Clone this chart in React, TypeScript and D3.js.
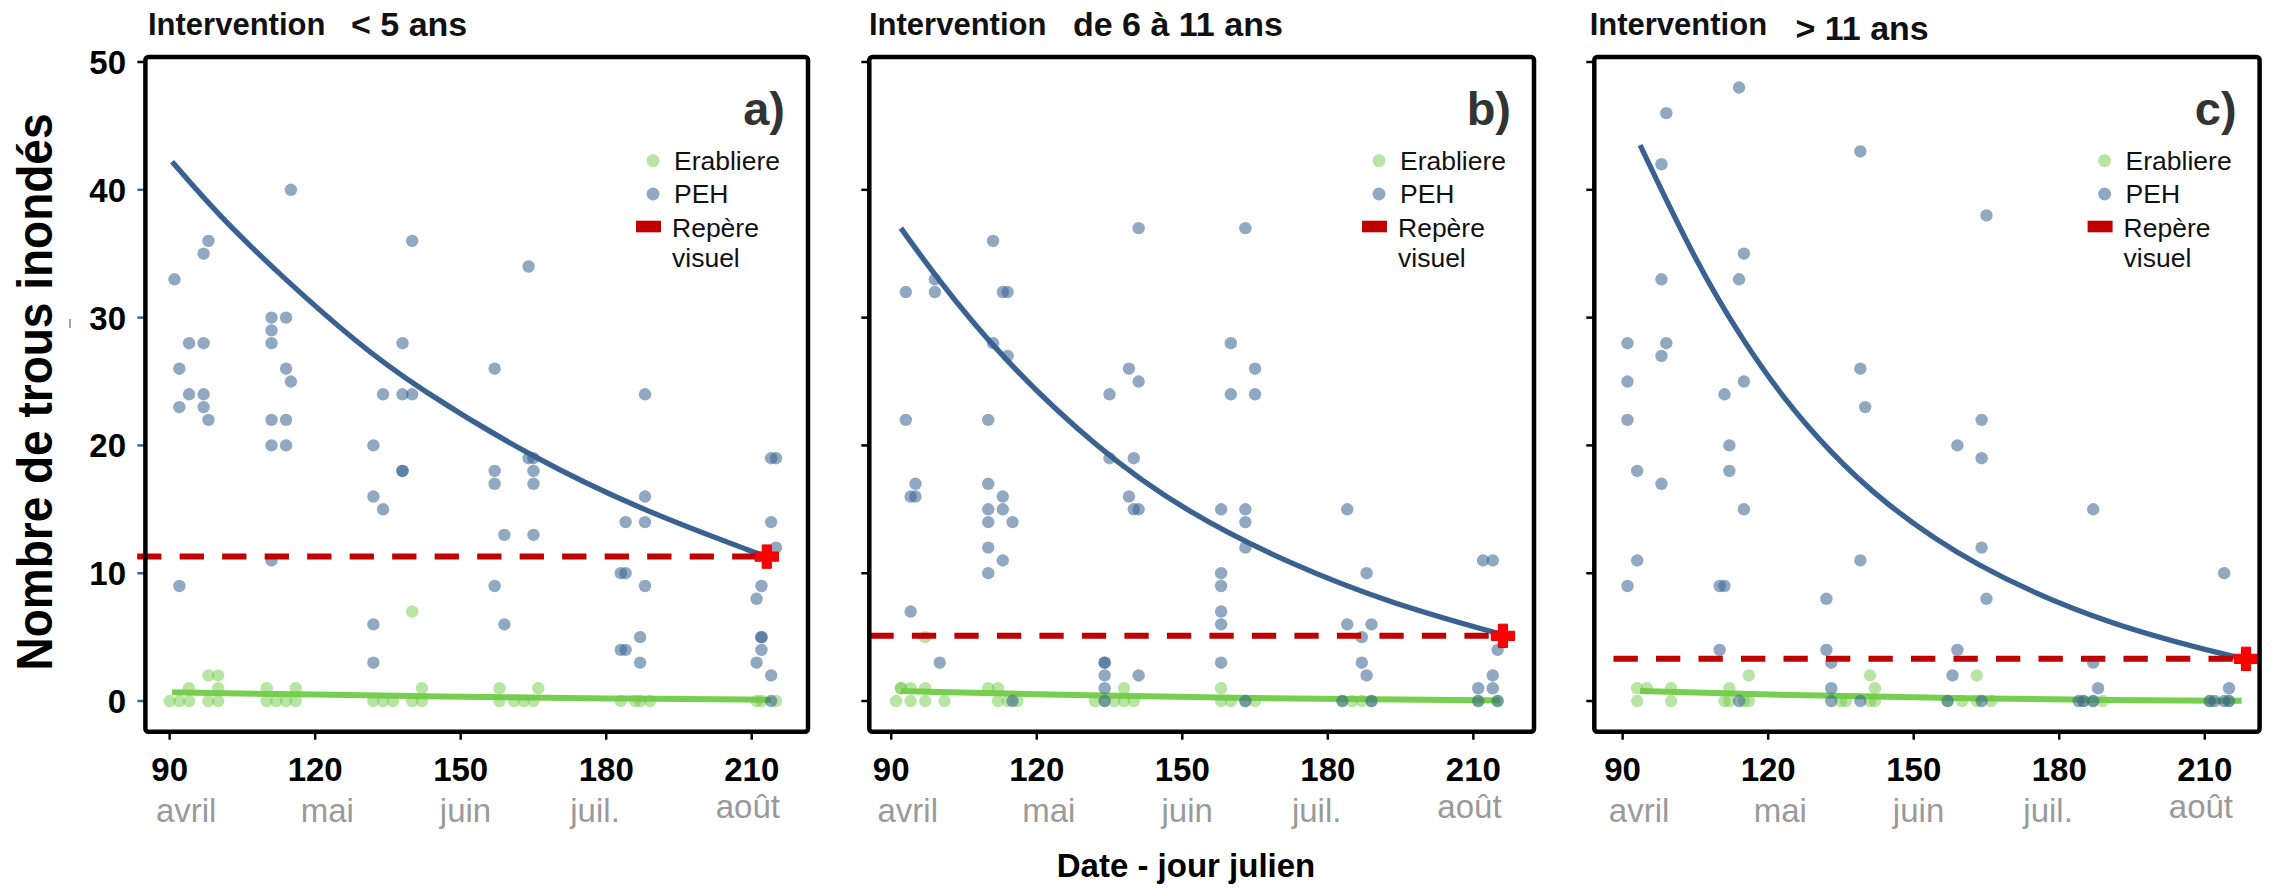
import React from 'react';
import * as d3 from 'd3';

// ---------- DATA ----------
const X_TICKS = [90, 120, 150, 180, 210];
const Y_TICKS = [0, 10, 20, 30, 40, 50];
const MONTHS = ['avril', 'mai', 'juin', 'juil.', 'août'];
const MONTH_DAYS = [93.4, 122.5, 151, 177.7, 209.2];
const PANEL_LABELS = ['a)', 'b)', 'c)'];
const PANEL_TITLES = ['< 5 ans', 'de 6 à 11 ans', '> 11 ans'];
const LEGEND_LABELS = ['Erabliere', 'PEH', 'Repère', 'visuel'];

// PEH points [day, count]
const PEH_A: [number, number][] = [
  [115, 40], [98, 36], [140, 36], [97, 35], [164, 34], [91, 33], [111, 30], [114, 30], [111, 29],
  [94, 28], [97, 28], [111, 28], [138, 28], [92, 26], [114, 26], [157, 26], [115, 25],
  [94, 24], [97, 24], [134, 24], [138, 24], [140, 24], [188, 24], [92, 23], [97, 23],
  [98, 22], [111, 22], [114, 22], [111, 20], [114, 20], [132, 20], [164, 19], [165, 19], [214, 19], [215, 19],
  [138, 18], [138, 18], [157, 18], [165, 18], [157, 17], [165, 17], [132, 16], [188, 16], [134, 15],
  [184, 14], [188, 14], [214, 14], [159, 13], [165, 13], [215, 12], [111, 11], [183, 10], [184, 10],
  [92, 9], [157, 9], [188, 9], [212, 9], [211, 8], [132, 6], [159, 6], [187, 5], [212, 5], [212, 5],
  [183, 4], [184, 4], [212, 4], [132, 3], [187, 3], [211, 3], [214, 2], [214, 0],
];
const ERAB_A: [number, number][] = [
  [140, 7], [98, 2], [100, 2], [94, 1], [100, 1], [110, 1], [116, 1], [142, 1], [158, 1], [166, 1],
  [90, 0], [92, 0], [94, 0], [98, 0], [100, 0], [110, 0], [112, 0], [114, 0], [116, 0], [132, 0],
  [134, 0], [136, 0], [140, 0], [142, 0], [158, 0], [161, 0], [163, 0], [165, 0], [183, 0], [186, 0],
  [187, 0], [189, 0], [211, 0], [212, 0], [215, 0],
];
const PEH_B: [number, number][] = [
  [141, 37], [163, 37], [111, 36], [99, 33], [93, 32], [99, 32], [113, 32], [114, 32], [111, 28], [160, 28],
  [114, 27], [139, 26], [165, 26], [141, 25], [135, 24], [160, 24], [165, 24], [93, 22], [110, 22],
  [135, 19], [140, 19], [95, 17], [110, 17], [94, 16], [95, 16], [113, 16], [139, 16],
  [110, 15], [113, 15], [140, 15], [141, 15], [158, 15], [163, 15], [184, 15], [110, 14], [115, 14], [163, 14],
  [110, 12], [163, 12], [113, 11], [212, 11], [214, 11], [110, 10], [158, 10], [188, 10], [158, 9],
  [94, 7], [158, 7], [158, 6], [184, 6], [189, 6], [187, 5], [215, 4], [100, 3], [134, 3], [134, 3],
  [158, 3], [187, 3], [134, 2], [141, 2], [188, 2], [214, 2], [134, 1], [211, 1], [214, 1],
  [115, 0], [134, 0], [163, 0], [183, 0], [189, 0], [211, 0], [215, 0],
];
const ERAB_B: [number, number][] = [
  [97, 5], [92, 1], [92, 1], [94, 1], [97, 1], [110, 1], [112, 1], [138, 1], [158, 1],
  [91, 0], [94, 0], [97, 0], [101, 0], [112, 0], [114, 0], [116, 0], [132, 0], [134, 0], [136, 0],
  [138, 0], [140, 0], [158, 0], [160, 0], [163, 0], [165, 0], [183, 0], [185, 0], [187, 0], [189, 0],
  [211, 0], [215, 0],
];
const PEH_C: [number, number][] = [
  [114, 48], [99, 46], [139, 43], [98, 42], [165, 38], [115, 35], [98, 33], [114, 33], [91, 28], [99, 28],
  [98, 27], [139, 26], [91, 25], [115, 25], [111, 24], [140, 23], [91, 22], [164, 22], [112, 20], [159, 20],
  [164, 19], [93, 18], [112, 18], [98, 17], [115, 15], [187, 15], [164, 12], [93, 11], [139, 11], [214, 10],
  [91, 9], [110, 9], [111, 9], [132, 8], [165, 8], [110, 4], [132, 4], [159, 4], [133, 3], [187, 3],
  [158, 2], [133, 1], [188, 1], [215, 1],
  [114, 0], [133, 0], [139, 0], [157, 0], [164, 0], [184, 0], [185, 0], [187, 0], [211, 0], [212, 0], [214, 0], [215, 0],
];
const ERAB_C: [number, number][] = [
  [116, 2], [141, 2], [163, 2], [93, 1], [95, 1], [100, 1], [112, 1], [142, 1],
  [93, 0], [100, 0], [111, 0], [112, 0], [115, 0], [116, 0], [135, 0], [136, 0], [141, 0], [142, 0],
  [157, 0], [160, 0], [163, 0], [166, 0], [185, 0], [187, 0], [189, 0], [211, 0], [215, 0],
];

// fitted curves [day, value]
const FIT_PEH_A: [number, number][] = [[90.5, 42.2], [100.3, 37.9], [114, 32.9], [128.7, 28], [140.3, 24.7], [164.4, 19.1], [188.1, 14.8], [213, 11.3]];
const FIT_ERAB_A: [number, number][] = [[90.5, 0.68], [120, 0.5], [150, 0.34], [180, 0.2], [214, 0.1]];
const FIT_PEH_B: [number, number][] = [[92, 37], [98.6, 33.5], [112.3, 27.0], [132.8, 19.6], [151.2, 14.7], [172.3, 10.7], [193.3, 7.6], [216, 5.2]];
const FIT_ERAB_B: [number, number][] = [[92, 0.78], [125, 0.48], [158, 0.26], [190, 0.12], [215.5, 0.05]];
const FIT_PEH_C: [number, number][] = [[93.6, 43.5], [105.4, 34.1], [114.8, 28.2], [123.3, 23.6], [132.7, 19.5], [143.1, 15.7], [161.9, 10.6], [190.2, 5.9], [218, 3.3]];
const FIT_ERAB_C: [number, number][] = [[93.6, 0.78], [128, 0.42], [162, 0.2], [190, 0.08], [217.6, 0.02]];

// visual reference (repère visuel): [start day, end day, value]
const REPERE_A = [83.3, 213.1, 11.3];
const REPERE_B = [85.5, 216.1, 5.1];
const REPERE_C = [84.2, 218.5, 3.3];

// ---------- LAYOUT ----------
const W = 2277;
const H = 891;
const TOP = 56.9;
const BOTTOM = 731.7;
const FONT = '"Liberation Sans", Arial, Helvetica, sans-serif';
const BLUE = '#34618F';
const BLUE_LINE = '#3A6291';
const GREEN = '#72CC48';
const GREEN_LINE = '#76CF4E';
const RED = '#C00000';

const PANELS = [
  { left: 145.4, right: 808, xDomain: [85, 221.6], titleDx: 2.6, sufDx: 205.6, sufDy: 0, dashOff: 0, peh: PEH_A, erab: ERAB_A, fitPeh: FIT_PEH_A, fitErab: FIT_ERAB_A, rep: REPERE_A, blueTicks: true },
  { left: 869.3, right: 1534, xDomain: [85.48, 222.5], titleDx: -0.3, sufDx: 203.7, sufDy: 0, dashOff: 0, peh: PEH_B, erab: ERAB_B, fitPeh: FIT_PEH_B, fitErab: FIT_ERAB_B, rep: REPERE_B, blueTicks: false },
  { left: 1594.3, right: 2259.6, xDomain: [84.16, 221.3], titleDx: -4.6, sufDx: 201.2, sufDy: 4, dashOff: 23.5, peh: PEH_C, erab: ERAB_C, fitPeh: FIT_PEH_C, fitErab: FIT_ERAB_C, rep: REPERE_C, blueTicks: false },
];

const y = d3.scaleLinear().domain([-2.4, 50.4]).range([BOTTOM, TOP]);

function Panel({ p, i }: { p: any; i: number }) {
  const x = d3.scaleLinear().domain(p.xDomain).range([p.left, p.right]);
  const line = d3.line<[number, number]>().x(d => x(d[0])).y(d => y(d[1])).curve(d3.curveBasis);
  const [rs, re, rv] = p.rep;
  const cx = x(re);
  const cy = y(rv);
  const cs = 11.7;
  const ct = 4.6;
  const R = p.right;
  return (
    <g>
      {/* titles */}
      <text x={p.left + p.titleDx} y={35} fontSize={31} fontWeight="bold" fill="#111">Intervention</text>
      <text x={p.left + p.sufDx} y={36 + p.sufDy} fontSize={34} fontWeight="bold" fill="#111">{PANEL_TITLES[i]}</text>

      {/* y ticks */}
      {Y_TICKS.map(t => (
        <line key={'yt' + t} x1={p.left - 8} x2={p.left} y1={y(t)} y2={y(t)}
          stroke={p.blueTicks && t !== 50 ? BLUE_LINE : '#000'} strokeWidth={2.5} />
      ))}
      {i === 0 && Y_TICKS.map(t => (
        <text key={'yl' + t} x={126} y={y(t) + 12} fontSize={33} fontWeight="bold" textAnchor="end" fill="#000">{t}</text>
      ))}
      {/* x ticks */}
      {X_TICKS.map(t => (
        <g key={'xt' + t}>
          <line x1={x(t)} x2={x(t)} y1={BOTTOM} y2={BOTTOM + 8} stroke="#000" strokeWidth={2.5} />
          <text x={x(t)} y={781} fontSize={33} fontWeight="bold" textAnchor="middle" fill="#000">{t}</text>
        </g>
      ))}
      {MONTHS.map((m, k) => (
        <text key={m} x={x(MONTH_DAYS[k])} y={m === 'août' ? 818 : 822} fontSize={33} textAnchor="middle" fill="#9a9a9a">{m}</text>
      ))}

      {/* fitted lines */}
      <path d={line(p.fitErab) || ''} fill="none" stroke={GREEN_LINE} strokeWidth={6} />
      <path d={line(p.fitPeh) || ''} fill="none" stroke={BLUE_LINE} strokeWidth={5.3} />

      {/* points */}
      {p.erab.map((d: [number, number], k: number) => (
        <circle key={'e' + k} cx={x(d[0])} cy={y(d[1])} r={6.2} fill={GREEN} fillOpacity={0.5} />
      ))}
      {p.peh.map((d: [number, number], k: number) => (
        <circle key={'p' + k} cx={x(d[0])} cy={y(d[1])} r={6.2} fill={BLUE} fillOpacity={0.55} />
      ))}

      {/* repère visuel */}
      <line x1={Math.max(x(rs), i === 2 ? p.left : -1e9)} x2={cx} y1={cy} y2={cy} stroke={RED} strokeWidth={6}
        strokeDasharray="24.3 18.2" strokeDashoffset={p.dashOff} />
      <path d={`M${cx - cs},${cy - ct}H${cx - ct}V${cy - cs}H${cx + ct}V${cy - ct}H${cx + cs}V${cy + ct}H${cx + ct}V${cy + cs}H${cx - ct}V${cy + ct}H${cx - cs}Z`}
        fill="#FF0000" stroke="#E00000" strokeWidth={1} />

      {/* frame */}
      <rect x={p.left} y={TOP} width={p.right - p.left} height={BOTTOM - TOP} fill="none" stroke="#000" strokeWidth={4.5} rx={3} />

      {/* panel label */}
      <text x={R - 23} y={125} fontSize={47} fontWeight="bold" textAnchor="end" fill="#333">{PANEL_LABELS[i]}</text>

      {/* legend */}
      <circle cx={R - 155} cy={160.7} r={6.5} fill={GREEN} fillOpacity={0.5} />
      <text x={R - 134} y={169.5} fontSize={26.5} fill="#111">{LEGEND_LABELS[0]}</text>
      <circle cx={R - 155} cy={194} r={6.5} fill={BLUE} fillOpacity={0.55} />
      <text x={R - 134} y={203} fontSize={26.5} fill="#111">{LEGEND_LABELS[1]}</text>
      <rect x={R - 172} y={220.7} width={25} height={11.6} fill={RED} />
      <text x={R - 136} y={237} fontSize={26.5} fill="#111">{LEGEND_LABELS[2]}</text>
      <text x={R - 136} y={267} fontSize={26.5} fill="#111">{LEGEND_LABELS[3]}</text>
    </g>
  );
}

export default function App() {
  return (
    <svg width={W} height={H} viewBox={`0 0 ${W} ${H}`}
      style={{ position: 'absolute', left: 0, top: 0, background: '#fff', fontFamily: FONT }}>
      <rect x={0} y={0} width={W} height={H} fill="#fff" />
      {PANELS.map((p, i) => <Panel key={i} p={p} i={i} />)}
      <text transform="translate(51.7,392) scale(1.08,1) rotate(-90)" fontSize={46} fontWeight="bold" textAnchor="middle" fill="#000">
        Nombre de trous inondés
      </text>
      <line x1={70} x2={70} y1={319} y2={328} stroke="#888" strokeWidth={1.5} />
      <text x={1186} y={877} fontSize={33} fontWeight="bold" textAnchor="middle" fill="#000">Date - jour julien</text>
    </svg>
  );
}
